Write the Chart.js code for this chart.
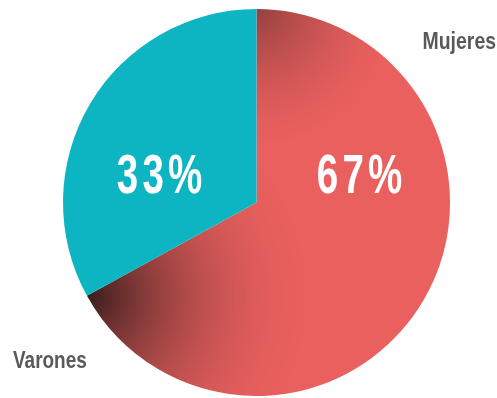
<!DOCTYPE html>
<html>
<head>
<meta charset="utf-8">
<script src="https://cdn.jsdelivr.net/npm/chart.js@4/dist/chart.umd.min.js"></script>
<style>
  html, body { margin: 0; padding: 0; background: #fff; }
  #wrap { width: 497px; height: 398px; position: relative; }
</style>
</head>
<body>
<div id="wrap"><canvas id="pie"></canvas></div>
<script>
const labels = ['Mujeres', 'Varones'];
const values = [67, 33];
const colors = ['rgb(233, 96, 94)', 'rgb(12, 181, 193)'];

const labelFont = '"Liberation Sans", Arial, sans-serif';

let shadeCache = null;

// Red slice gets a soft shadow near its two straight edges
const shadedRed = (chart) => {
  const area = chart.chartArea;
  if (!area) return colors[0];
  const key = [area.left, area.top, area.right, area.bottom].join(',');
  if (shadeCache && shadeCache.key === key) return shadeCache.pattern;

  const w = chart.width, h = chart.height;
  const cx = (area.left + area.right) / 2;
  const cy = (area.top + area.bottom) / 2;
  const r = Math.min(area.right - area.left, area.bottom - area.top) / 2;
  const total = values.reduce((a, b) => a + b, 0);
  const endAngle = -Math.PI / 2 + 2 * Math.PI * values[0] / total;
  const c1 = { x: cx + r * Math.cos(endAngle), y: cy + r * Math.sin(endAngle) };
  const c2 = { x: cx, y: cy - r };

  const off = document.createElement('canvas');
  off.width = w;
  off.height = h;
  const octx = off.getContext('2d');
  const img = octx.createImageData(w, h);
  for (let y = 0; y < h; y++) {
    for (let x = 0; x < w; x++) {
      const d1 = Math.hypot(x - c1.x, y - c1.y);
      const d2 = Math.hypot(x - c2.x, y - c2.y);
      const k1 = 0.76 * Math.pow(Math.max(0, 1 - d1 / 230), 2);
      const k2 = 0.36 * Math.pow(Math.max(0, 1 - d2 / 140), 1.6);
      const f = (1 - k1) * (1 - k2);
      const i = (y * w + x) * 4;
      img.data[i] = 233 * f;
      img.data[i + 1] = 96 * f + 8 * (1 - f);
      img.data[i + 2] = 94 * f + 8 * (1 - f);
      img.data[i + 3] = 255;
    }
  }
  octx.putImageData(img, 0, 0);
  const pattern = chart.ctx.createPattern(off, 'no-repeat');
  shadeCache = { key, pattern };
  return pattern;
};

// narrow text: squeeze a normal face horizontally
const narrowText = (ctx, text, x, y, align, squeeze, spacing = 0) => {
  ctx.save();
  ctx.translate(x, y);
  ctx.scale(squeeze, 1);
  ctx.letterSpacing = spacing + 'px';
  ctx.textAlign = align;
  // trailing letter spacing would shift centred text left
  const shift = align === 'center' ? spacing / 2 : 0;
  ctx.fillText(text, shift, 0);
  ctx.restore();
};

// Percent inside the slices, names outside
const textPlugin = {
  id: 'pieText',
  afterDatasetsDraw(chart) {
    const { ctx, chartArea } = chart;
    const cx = (chartArea.left + chartArea.right) / 2;
    const cy = (chartArea.top + chartArea.bottom) / 2;
    ctx.save();
    ctx.textBaseline = 'alphabetic';
    ctx.fillStyle = '#fff';
    ctx.font = 'bold 55px ' + labelFont;
    narrowText(ctx, values[0] + '%', cx + 103, cy - 10, 'center', 0.7, 6);
    narrowText(ctx, values[1] + '%', cx - 97, cy - 10, 'center', 0.7, 6);

    ctx.fillStyle = '#58595b';
    ctx.font = 'bold 24px ' + labelFont;
    narrowText(ctx, labels[0], chart.width - 1, 49, 'right', 0.81);
    narrowText(ctx, labels[1], 13, 368, 'left', 0.79);
    ctx.restore();
  }
};

new Chart(document.getElementById('pie'), {
  type: 'pie',
  data: {
    labels: labels,
    datasets: [{
      data: values,
      backgroundColor: (ctx) => ctx.dataIndex === 0 ? shadedRed(ctx.chart) : colors[1],
      borderWidth: 0
    }]
  },
  options: {
    responsive: true,
    maintainAspectRatio: false,
    animation: false,
    layout: {
      padding: { left: 63, right: 47, top: 9, bottom: 2 }
    },
    plugins: {
      legend: { display: false },
      tooltip: { enabled: false }
    }
  },
  plugins: [textPlugin]
});
</script>
</body>
</html>
